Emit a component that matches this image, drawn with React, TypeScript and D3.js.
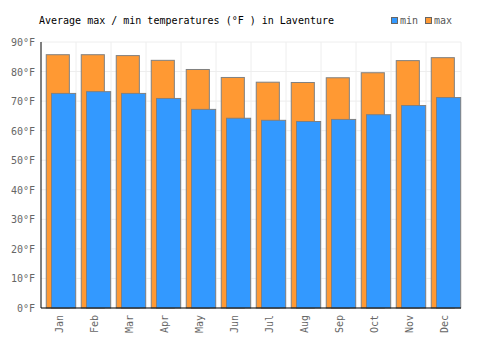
import React from "react";
import * as d3 from "d3";

const months = ["Jan", "Feb", "Mar", "Apr", "May", "Jun", "Jul", "Aug", "Sep", "Oct", "Nov", "Dec"];
const maxTemps = [85.7, 85.7, 85.4, 83.8, 80.7, 78.0, 76.4, 76.3, 77.9, 79.6, 83.7, 84.7];
const minTemps = [72.6, 73.2, 72.6, 70.9, 67.2, 64.2, 63.5, 63.1, 63.8, 65.4, 68.5, 71.2];
const yTicks = [0, 10, 20, 30, 40, 50, 60, 70, 80, 90];

const width = 500;
const height = 350;
const margin = { top: 42, right: 39, bottom: 42, left: 41 };
const font = "'DejaVu Sans Mono', monospace";

const App = () => {
  const x = d3
    .scaleBand()
    .domain(months)
    .range([margin.left, width - margin.right]);

  const y = d3
    .scaleLinear()
    .domain([0, 90])
    .range([height - margin.bottom, margin.top]);

  const bw = x.bandwidth();
  const y0 = y(0);

  return (
    <svg
      width={width}
      height={height}
      style={{ position: "fixed", left: 0, top: 0, background: "#fff" }}
    >
      {/* grid */}
      {yTicks.map((t) => (
        <line
          key={"h" + t}
          x1={margin.left}
          x2={width - margin.right}
          y1={y(t)}
          y2={y(t)}
          stroke="#eeeeee"
        />
      ))}
      {months.map((m) => (
        <line
          key={"v" + m}
          x1={x(m)! + bw}
          x2={x(m)! + bw}
          y1={margin.top}
          y2={y0}
          stroke="#eeeeee"
        />
      ))}

      {/* bars: max behind, min in front */}
      {months.map((m, i) => (
        <g key={m}>
          <rect
            x={x(m)! + bw * 0.15}
            y={y(maxTemps[i])}
            width={bw * 0.66}
            height={y0 - y(maxTemps[i])}
            fill="#ff9933"
            stroke="#808080"
            strokeWidth={1}
          />
          <rect
            x={x(m)! + bw * 0.3}
            y={y(minTemps[i])}
            width={bw * 0.69}
            height={y0 - y(minTemps[i])}
            fill="#3399ff"
            stroke="#808080"
            strokeWidth={1}
          />
        </g>
      ))}

      {/* axes */}
      <line x1={margin.left} x2={margin.left} y1={margin.top} y2={y0} stroke="#000" />
      <line x1={margin.left} x2={width - margin.right} y1={y0} y2={y0} stroke="#000" />

      {yTicks.map((t) => (
        <text
          key={"t" + t}
          x={margin.left - 6}
          y={y(t) + 4}
          textAnchor="end"
          fontFamily={font}
          fontSize={10}
          fill="#666"
        >
          {t}°F
        </text>
      ))}

      {months.map((m) => (
        <text
          key={"l" + m}
          transform={`translate(${x(m)! + bw / 2 + 4},${y0 + 7}) rotate(-90)`}
          textAnchor="end"
          fontFamily={font}
          fontSize={10}
          fill="#666"
        >
          {m}
        </text>
      ))}

      {/* title */}
      <text x={39} y={24} fontFamily={font} fontSize={10} fill="#000">
        Average max / min temperatures (°F ) in Laventure
      </text>

      {/* legend */}
      <rect x={391.5} y={17.5} width={6} height={6} fill="#3399ff" stroke="#666" />
      <text x={400} y={24} fontFamily={font} fontSize={10} fill="#555">
        min
      </text>
      <rect x={425.5} y={17.5} width={6} height={6} fill="#ff9933" stroke="#666" />
      <text x={434} y={24} fontFamily={font} fontSize={10} fill="#555">
        max
      </text>
    </svg>
  );
};

export default App;
